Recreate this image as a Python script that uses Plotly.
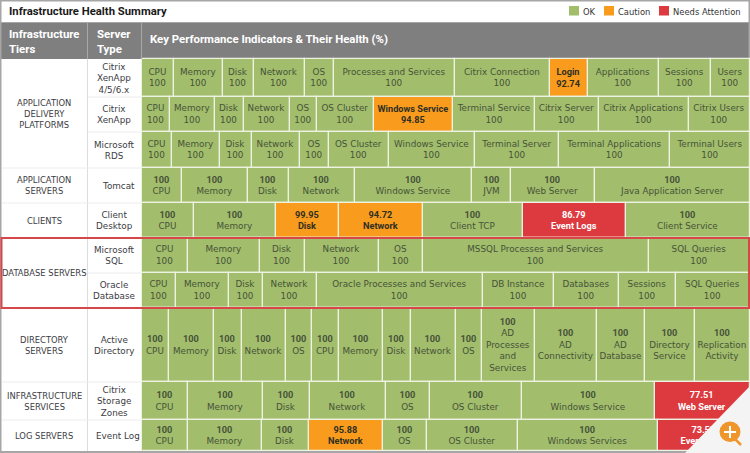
import plotly.graph_objects as go

OK = "#a2bd6b"
CAUTION = "#f99c1e"
ATTENTION = "#dd3a40"
HEADER = "#7f7f7f"
FONT = "DejaVu Sans"
TITLE_FONT = "Roboto"

tiers = ["APPLICATION<br>DELIVERY<br>PLATFORMS", "APPLICATION<br>SERVERS", "CLIENTS", "DATABASE SERVERS",
         "DIRECTORY<br>SERVERS", "INFRASTRUCTURE<br>SERVICES", "LOG SERVERS"]
tier_rows = [3, 1, 1, 2, 1, 1, 1]

server_types = ["Citrix<br>XenApp<br>4/5/6.x", "Citrix<br>XenApp", "Microsoft<br>RDS", "Tomcat", "Client<br>Desktop",
                "Microsoft<br>SQL", "Oracle<br>Database", "Active<br>Directory", "Citrix<br>Storage<br>Zones", "Event Log"]
row_edges = [59, 97, 132, 168, 203, 238, 273, 308, 382, 420, 451]
value_first = [False, False, False, True, True, False, False, True, True, True]

xenapp6_kpis = ["CPU", "Memory", "Disk", "Network", "OS", "Processes and Services", "Citrix Connection", "Login",
                "Applications", "Sessions", "Users"]
xenapp6_values = [100, 100, 100, 100, 100, 100, 100, 92.74, 100, 100, 100]
xenapp6_widths = [32, 49, 31, 51, 29, 121, 95, 38, 71, 52, 39]

xenapp_kpis = ["CPU", "Memory", "Disk", "Network", "OS", "OS Cluster", "Windows Service", "Terminal Service",
               "Citrix Server", "Citrix Applications", "Citrix Users"]
xenapp_values = [100, 100, 100, 100, 100, 100, 94.85, 100, 100, 100, 100]
xenapp_widths = [28, 45, 29, 46, 27, 57, 79, 82, 64, 90, 61]

rds_kpis = ["CPU", "Memory", "Disk", "Network", "OS", "OS Cluster", "Windows Service", "Terminal Server",
            "Terminal Applications", "Terminal Users"]
rds_values = [100, 100, 100, 100, 100, 100, 100, 100, 100, 100]
rds_widths = [30, 48, 32, 48, 29, 60, 86, 84, 111, 80]

tomcat_kpis = ["CPU", "Memory", "Disk", "Network", "Windows Service", "JVM", "Web Server", "Java Application Server"]
tomcat_values = [100, 100, 100, 100, 100, 100, 100, 100]
tomcat_widths = [40, 66, 41, 66, 117, 39, 84, 155]

desktop_kpis = ["CPU", "Memory", "Disk", "Network", "Client TCP", "Event Logs", "Client Service"]
desktop_values = [100, 100, 99.95, 94.72, 100, 86.79, 100]
desktop_widths = [52, 82, 63, 84, 100, 103, 124]

mssql_kpis = ["CPU", "Memory", "Disk", "Network", "OS", "MSSQL Processes and Services", "SQL Queries"]
mssql_values = [100, 100, 100, 100, 100, 100, 100]
mssql_widths = [46, 72, 45, 74, 44, 226, 101]

oracle_kpis = ["CPU", "Memory", "Disk", "Network", "Oracle Processes and Services", "DB Instance", "Databases",
               "Sessions", "SQL Queries"]
oracle_values = [100, 100, 100, 100, 100, 100, 100, 100, 100]
oracle_widths = [34, 53, 34, 54, 166, 71, 65, 57, 74]

ad_kpis = ["CPU", "Memory", "Disk", "Network", "OS", "CPU", "Memory", "Disk", "Network", "OS",
           "AD<br>Processes<br>and<br>Services", "AD<br>Connectivity", "AD<br>Database", "Directory<br>Service",
           "Replication<br>Activity"]
ad_values = [100] * 15
ad_widths = [27, 45, 28, 44, 26, 27, 44, 28, 45, 26, 53, 62, 48, 50, 55]

storage_kpis = ["CPU", "Memory", "Disk", "Network", "OS", "OS Cluster", "Windows Service", "Web Server"]
storage_values = [100, 100, 100, 100, 100, 100, 100, 77.51]
storage_widths = [46, 75, 47, 76, 44, 92, 133, 95]

log_kpis = ["CPU", "Memory", "Disk", "Network", "OS", "OS Cluster", "Windows Services", "Event Logs"]
log_values = [100, 100, 100, 95.88, 100, 100, 100, 73.52]
log_widths = [46, 74, 47, 74, 44, 91, 140, 92]

rows = [
    (xenapp6_kpis, xenapp6_values, xenapp6_widths),
    (xenapp_kpis, xenapp_values, xenapp_widths),
    (rds_kpis, rds_values, rds_widths),
    (tomcat_kpis, tomcat_values, tomcat_widths),
    (desktop_kpis, desktop_values, desktop_widths),
    (mssql_kpis, mssql_values, mssql_widths),
    (oracle_kpis, oracle_values, oracle_widths),
    (ad_kpis, ad_values, ad_widths),
    (storage_kpis, storage_values, storage_widths),
    (log_kpis, log_values, log_widths),
]


def status_color(value):
    if value == 100:
        return OK
    return CAUTION if value >= 90 else ATTENTION


def strong(text):
    # bold parts are narrower in the original than DejaVu bold
    return f'<span style="font-family:{TITLE_FONT};font-size:9.2px;font-weight:bold">{text}</span>'


def cell_text(kpi, value, first):
    if value != 100:
        top, bottom = (value, kpi) if first else (kpi, value)
        return f"{strong(top)}<br>{strong(bottom)}"
    return f"{strong(value)}<br>{kpi}" if first else f"{kpi}<br>{value}"


xs, bases, ys, heights, colors, texts, text_colors = [], [], [], [], [], [], []
for i, (kpis, values, widths) in enumerate(rows):
    left = 142
    for kpi, value, w in zip(kpis, values, widths):
        xs.append(w)
        bases.append(left)
        ys.append((row_edges[i] + row_edges[i + 1]) / 2)
        heights.append(row_edges[i + 1] - row_edges[i])
        colors.append(status_color(value))
        texts.append(cell_text(kpi, value, value_first[i]))
        text_colors.append("#ffffff" if status_color(value) == ATTENTION else ("#2f2f22" if value != 100 else "#46533a"))
        left += w

fig = go.Figure(
    go.Bar(
        x=xs,
        y=ys,
        base=bases,
        width=heights,
        orientation="h",
        text=texts,
        textposition="inside",
        insidetextanchor="middle",
        textangle=0,
        constraintext="none",
        textfont=dict(family=FONT, size=8.8, color=text_colors),
        marker=dict(color=colors, line=dict(color="#eef2e2", width=1.2)),
        hoverinfo="skip",
    )
)

shapes = [
    dict(type="rect", x0=0, x1=750, y0=23, y1=59, fillcolor=HEADER, line_width=0, layer="below"),
    dict(type="line", x0=87.5, x1=87.5, y0=23, y1=451, line=dict(color="#dcdcdc", width=1), layer="below"),
    dict(type="line", x0=141.5, x1=141.5, y0=23, y1=59, line=dict(color="#a8a8a8", width=1)),
    dict(type="line", x0=87.5, x1=87.5, y0=23, y1=59, line=dict(color="#a8a8a8", width=1)),
]
for edge in row_edges[1:-1]:
    shapes.append(dict(type="line", x0=88, x1=142, y0=edge, y1=edge, line=dict(color="#ececec", width=1), layer="below"))

annotations = []


def add_text(x, y, text, size=8.8, color="#3c3c44", family=FONT, align="center"):
    annotations.append(dict(x=x, y=y, text=text, showarrow=False, xanchor=align, yanchor="middle", align=align,
                            font=dict(family=family, size=size, color=color)))


k = 0
for tier, n in zip(tiers, tier_rows):
    top, bottom = row_edges[k], row_edges[k + n]
    add_text(44, (top + bottom) / 2, tier, size=8.4)
    if k > 0:
        shapes.append(dict(type="line", x0=2, x1=88, y0=top, y1=top, line=dict(color="#ececec", width=1), layer="below"))
    k += n

# Tomcat and Event Log sit a little right of the other names
nudged = {"Tomcat": 118.5, "Event Log": 118}
for i, name in enumerate(server_types):
    add_text(nudged.get(name, 114), (row_edges[i] + row_edges[i + 1]) / 2, name)

add_text(6.5, 11, "<b>Infrastructure Health Summary</b>", size=11.3, color="#1a1a1a", family=TITLE_FONT, align="left")
add_text(6.5, 41, "<b>Infrastructure<br>Tiers</b>", size=11.4, color="#ffffff", family=TITLE_FONT, align="left")
add_text(95, 41, "<b>Server<br>Type</b>", size=11.4, color="#ffffff", family=TITLE_FONT, align="left")
add_text(147.5, 39, "<b>Key Performance Indicators &amp; Their Health (%)</b>", size=11.4, color="#ffffff", family=TITLE_FONT, align="left")

legend_names = ["OK", "Caution", "Needs Attention"]
legend_colors = [OK, CAUTION, ATTENTION]
legend_lefts = [569, 604, 659]
for name, color, left in zip(legend_names, legend_colors, legend_lefts):
    shapes.append(dict(type="rect", x0=left, x1=left + 10, y0=6, y1=15.5, fillcolor=color, line_width=0))
    add_text(left + 11.5, 12, name, size=8.4, color="#333333", align="left")

# database rows highlight, outer frame and the corner zoom badge
shapes += [
    dict(type="rect", x0=1.5, x1=749, y0=238, y1=308, line=dict(color="#d6474a", width=2), fillcolor="rgba(0,0,0,0)"),
    dict(type="rect", x0=0.5, x1=749.5, y0=0.5, y1=452, line=dict(color="#a6a6a6", width=2), fillcolor="rgba(0,0,0,0)", layer="below"),
    dict(type="line", x0=0, x1=750, y0=22.5, y1=22.5, line=dict(color="#a6a6a6", width=1), layer="below"),
    dict(type="rect", x0=0, x1=750, y0=451, y1=453, fillcolor="#a6a6a6", line_width=0),
    dict(type="path", path="M 685 453 L 750 386 L 750 453 Z", fillcolor="#f4f4f4", line_width=0),
    dict(type="line", x0=735, x1=741, y0=439, y1=445, line=dict(color="#ee962b", width=2.5)),
    dict(type="circle", x0=719.5, x1=740.5, y0=421.5, y1=442, fillcolor="#ee962b", line_width=0),
    dict(type="line", x0=724, x1=736, y0=432, y1=432, line=dict(color="#ffffff", width=2)),
    dict(type="line", x0=730, x1=730, y0=426, y1=438, line=dict(color="#ffffff", width=2)),
]

fig.update_layout(
    width=750,
    height=453,
    margin=dict(l=0, r=0, t=0, b=0),
    paper_bgcolor="#ffffff",
    plot_bgcolor="#ffffff",
    showlegend=False,
    barmode="overlay",
    bargap=0,
    xaxis=dict(range=[0, 750], visible=False, fixedrange=True),
    yaxis=dict(range=[453, 0], visible=False, fixedrange=True),
    shapes=shapes,
    annotations=annotations,
)

fig.write_html("out.html", config={"displayModeBar": False}, post_script="document.body.style.margin='0';")
